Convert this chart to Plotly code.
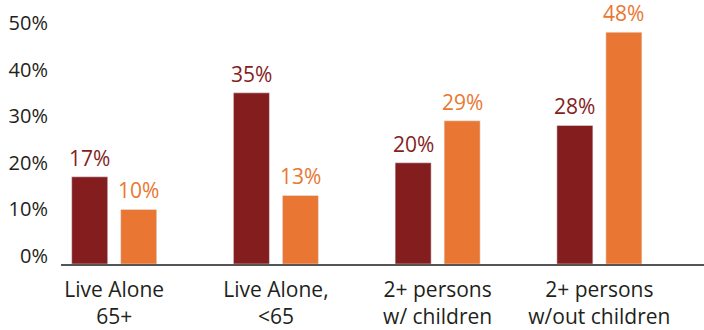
import plotly.graph_objects as go

categories = ["Live Alone<br>65+", "Live Alone,<br><65", "2+ persons<br>w/ children", "2+ persons<br>w/out children"]
series_a = [17, 35, 20, 28]
series_b = [10, 13, 29, 48]
tick_vals = [0, 10, 20, 30, 40, 50]
tick_text = ["\u20070%", "10%", "20%", "30%", "40%", "50%"]

dark = "#841E1E"
orange = "#E97733"
font_family = "Open Sans"
y_lo, y_hi = -1.7, 54.9

fig = go.Figure()
fig.add_trace(go.Bar(x=categories, y=[v - y_lo for v in series_a], base=y_lo,
                     marker_color=dark, showlegend=False))
fig.add_trace(go.Bar(x=categories, y=[v - y_lo for v in series_b], base=y_lo,
                     marker_color=orange, showlegend=False))

for c, a, b in zip(categories, series_a, series_b):
    fig.add_annotation(x=c, y=a, text=f"{a}%", showarrow=False, yanchor="middle",
                       yshift=19, xshift=-24.5, font=dict(family=font_family, size=21, color=dark))
    fig.add_annotation(x=c, y=b, text=f"{b}%", showarrow=False, yanchor="middle",
                       yshift=19, xshift=24.5, font=dict(family=font_family, size=21, color=orange))

fig.update_layout(
    width=704, height=330,
    margin=dict(l=61, r=0, t=0, b=64),
    plot_bgcolor="white", paper_bgcolor="white",
    barmode="group", bargap=0.394, bargroupgap=0.265,
    font=dict(family=font_family, color="#231F20"),
)
fig.update_xaxes(range=[-0.329, 3.647], showline=True, linecolor="#555555", linewidth=1.5,
                 ticks="", ticklabelstandoff=6, tickfont=dict(size=21, color="#231F20"), showgrid=False)
fig.update_yaxes(range=[y_lo, y_hi], tickvals=tick_vals, ticktext=tick_text, showgrid=False,
                 zeroline=False, showline=False, ticks="", ticklabelstandoff=12,
                 tickfont=dict(size=20, color="#231F20"))

fig.write_html("out.html")
